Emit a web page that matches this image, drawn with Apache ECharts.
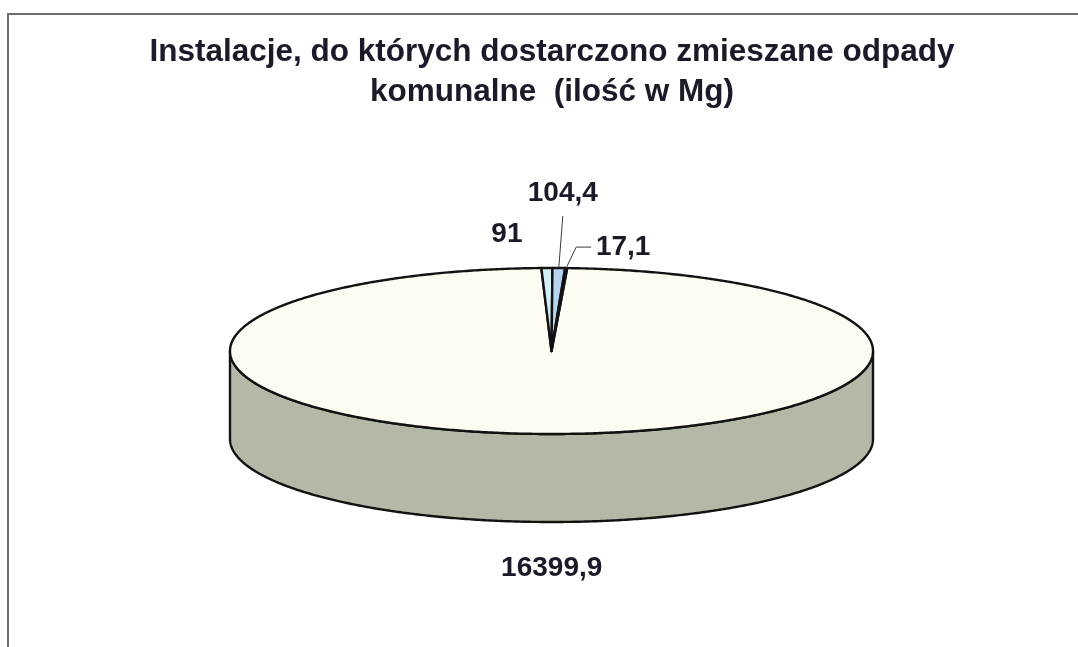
<!DOCTYPE html>
<html>
<head>
<meta charset="utf-8">
<script src="https://cdn.jsdelivr.net/npm/echarts@6/dist/echarts.min.js"></script>
<style>
  html, body { margin: 0; padding: 0; width: 1078px; height: 647px; overflow: hidden; background: #ffffff; }
  #frame { position: absolute; left: 7px; top: 13px; width: 1200px; height: 800px;
           border-left: 2px solid #6e6e6e; border-top: 2px solid #6e6e6e; }
  #chart { position: absolute; left: 7px; top: 0; width: 1090px; height: 647px; }
</style>
</head>
<body>
<div id="frame"></div>
<div id="chart"></div>
<script>
// ---- data ----
const categories = ['inst1', 'inst2', 'inst3', 'inst4'];
const values = [16399.9, 91, 104.4, 17.1];
const valueLabels = ['16399,9', '91', '104,4', '17,1'];
const titleText = 'Instalacje, do których dostarczono zmieszane odpady\nkomunalne  (ilość w Mg)';

// ---- style / layout ----
const topColors = ['#fcfcf3', '#d3eff7', '#b7d4f1', '#dd6b7c'];
const sideColors = ['#b4b9a7', '#a9c6cd', '#95abc4', '#b35563'];
const PIE = { cx: 544.5, cy: 351, rx: 321.5, ry: 83, depth: 88, startAngle: 2.8 };
const LABEL = [
  { dx: 3, dy: 46, leader: null },
  { dx: -40, dy: -34, leader: null },
  { dx: 4, dy: -75, leader: 'straight' },
  { dx: 57, dy: -21, leader: 'elbow' }
];

const total = values.reduce((s, v) => s + v, 0);
const starts = [];
(function () { let acc = PIE.startAngle; values.forEach(v => { starts.push(acc); acc += v / total * 360; }); })();

function pt(theta, dy) {
  const r = theta * Math.PI / 180;
  return [PIE.cx + PIE.rx * Math.sin(r), PIE.cy - PIE.ry * Math.cos(r) + (dy || 0)];
}
function arc(a, b, dy) {
  const n = Math.max(2, Math.ceil(Math.abs(b - a) / 0.5));
  const pts = [];
  for (let k = 0; k <= n; k++) pts.push(pt(a + (b - a) * k / n, dy));
  return pts;
}

function renderItem(params, api) {
  const i = params.dataIndex;
  const a = starts[i];
  const b = a + api.value(0) / total * 360;
  const children = [];
  // visible side wall (front half: 90..270 deg, clockwise from 12 o'clock)
  [[90, 270], [450, 630], [-270, -90]].forEach(function (rng) {
    const s = Math.max(a, rng[0]), e = Math.min(b, rng[1]);
    if (e > s) {
      const topArc = arc(s, e, 0);
      const botArc = arc(e, s, PIE.depth);
      children.push({
        type: 'polygon', z2: 1,
        shape: { points: topArc.concat(botArc) },
        style: { fill: sideColors[i], stroke: '#121212', lineWidth: 2.4, lineJoin: 'round' }
      });
    }
  });
  // top face
  children.push({
    type: 'polygon', z2: 5 + i,
    shape: { points: [[PIE.cx, PIE.cy]].concat(arc(a, b, 0)) },
    style: { fill: topColors[i], stroke: '#121212', lineWidth: 2.4, lineJoin: 'round' }
  });
  // label
  const m = (a + b) / 2;
  const front = Math.cos(m * Math.PI / 180) < 0;
  const anchor = pt(m, front ? PIE.depth : 0);
  const L = LABEL[i];
  const lx = anchor[0] + L.dx, ly = anchor[1] + L.dy;
  children.push({
    type: 'text', z2: 20,
    style: {
      text: valueLabels[i], x: lx, y: ly, align: 'center', verticalAlign: 'middle',
      font: 'bold 28px "Liberation Sans", Arial, sans-serif', fill: '#1a1a28'
    }
  });
  if (L.leader === 'straight') {
    children.push({
      type: 'polyline', z2: 15,
      shape: { points: [anchor, [lx, ly + 23]] },
      style: { stroke: '#3a3a3a', lineWidth: 1, fill: null }
    });
  } else if (L.leader === 'elbow') {
    children.push({
      type: 'polyline', z2: 15,
      shape: { points: [anchor, [lx - 47, ly], [lx - 32, ly]] },
      style: { stroke: '#3a3a3a', lineWidth: 1, fill: null }
    });
  }
  return { type: 'group', children: children };
}

const chart = echarts.init(document.getElementById('chart'), null, { renderer: 'canvas' });
chart.setOption({
  animation: false,
  backgroundColor: 'transparent',
  title: {
    text: titleText,
    left: 'center',
    top: 32,
    padding: 0,
    textStyle: {
      fontFamily: '"Liberation Sans", Arial, sans-serif',
      fontSize: 31.5, fontWeight: 'bold', color: '#1a1a28', lineHeight: 40
    }
  },
  series: [{
    type: 'custom',
    coordinateSystem: 'none',
    renderItem: renderItem,
    data: values.map((v, i) => ({ name: categories[i], value: [v] }))
  }]
});
</script>
</body>
</html>
